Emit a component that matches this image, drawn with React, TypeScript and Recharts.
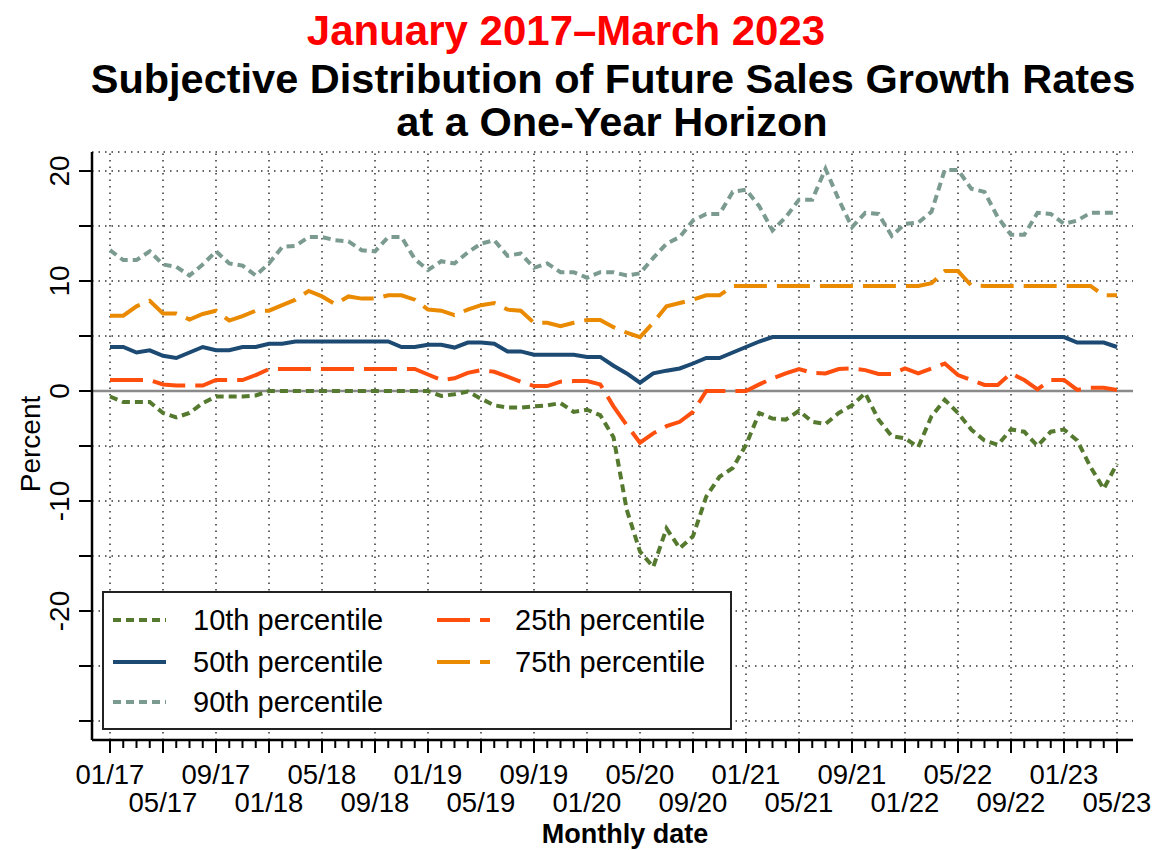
import React from 'react';
import { LineChart, Line, XAxis, YAxis, CartesianGrid, ReferenceLine, Legend } from 'recharts';

const months = [
  "01/17","02/17","03/17","04/17","05/17","06/17","07/17","08/17","09/17","10/17","11/17","12/17",
  "01/18","02/18","03/18","04/18","05/18","06/18","07/18","08/18","09/18","10/18","11/18","12/18",
  "01/19","02/19","03/19","04/19","05/19","06/19","07/19","08/19","09/19","10/19","11/19","12/19",
  "01/20","02/20","03/20","04/20","05/20","06/20","07/20","08/20","09/20","10/20","11/20","12/20",
  "01/21","02/21","03/21","04/21","05/21","06/21","07/21","08/21","09/21","10/21","11/21","12/21",
  "01/22","02/22","03/22","04/22","05/22","06/22","07/22","08/22","09/22","10/22","11/22","12/22",
  "01/23","02/23","03/23","04/23","05/23"
];

const p10 = [
  -0.5,-1.0,-1.0,-1.0,-2.0,-2.4,-2.0,-1.1,-0.5,-0.5,-0.5,-0.4,
  0,0,0,0,0,0,0,0,0,0,0,0,
  0,-0.45,-0.3,-0.05,-0.7,-1.3,-1.5,-1.5,-1.4,-1.3,-1.1,-1.9,
  -1.7,-2.2,-4.2,-10.8,-14.6,-16.0,-12.5,-14.3,-13.2,-9.6,-7.8,-7.0,
  -4.9,-2.0,-2.5,-2.6,-1.8,-2.8,-3.0,-2.0,-1.3,-0.2,-2.6,-4.1,
  -4.3,-5.1,-2.3,-0.8,-2.0,-3.5,-4.5,-4.9,-3.5,-3.7,-5.0,-3.7,
  -3.5,-4.5,-6.9,-8.9,-6.6
];
const p25 = [
  1.0,1.0,1.0,1.0,0.6,0.5,0.5,0.5,1.0,1.0,1.0,1.45,
  2.0,2.0,2.0,2.0,2.0,2.0,2.0,2.0,2.0,2.0,2.0,2.0,
  1.5,1.0,1.15,1.65,1.9,1.75,1.3,0.85,0.45,0.45,0.85,0.9,
  0.9,0.6,-1.4,-3.1,-4.7,-3.85,-3.2,-2.8,-1.9,0,0,0,
  0,0.6,1.15,1.6,2.0,1.65,1.6,2.0,2.05,1.9,1.55,1.55,
  2.05,1.6,2.05,2.5,1.45,1.0,0.55,0.55,1.6,1.0,0.15,1.0,
  1.0,0.1,0.3,0.3,0.1
];
const p50 = [
  4.0,4.0,3.5,3.7,3.2,3.0,3.5,4.0,3.7,3.7,4.0,4.0,
  4.3,4.3,4.5,4.5,4.5,4.5,4.5,4.5,4.5,4.5,4.0,4.0,
  4.2,4.2,3.95,4.4,4.4,4.3,3.6,3.6,3.3,3.3,3.3,3.3,
  3.1,3.1,2.3,1.6,0.75,1.6,1.85,2.05,2.5,3.0,3.0,3.5,
  4.0,4.5,4.9,4.9,4.9,4.9,4.9,4.9,4.9,4.9,4.9,4.9,
  4.9,4.9,4.9,4.9,4.9,4.9,4.9,4.9,4.9,4.9,4.9,4.9,
  4.9,4.4,4.4,4.4,4.0
];
const p75 = [
  6.85,6.85,7.7,8.2,7.05,7.05,6.5,7.0,7.3,6.4,6.8,7.3,
  7.3,7.8,8.3,9.1,8.6,7.9,8.6,8.4,8.4,8.7,8.7,8.3,
  7.4,7.3,6.9,7.4,7.8,8.0,7.4,7.3,6.2,6.2,5.9,6.2,
  6.45,6.45,5.8,5.3,4.9,6.2,7.7,8.0,8.3,8.7,8.7,9.55,
  9.55,9.55,9.55,9.55,9.55,9.55,9.55,9.55,9.55,9.55,9.55,9.55,
  9.55,9.55,9.8,10.9,10.9,9.6,9.55,9.55,9.55,9.55,9.55,9.55,
  9.55,9.55,9.55,8.7,8.7
];
const p90 = [
  12.8,11.9,11.9,12.7,11.5,11.3,10.5,11.5,12.7,11.6,11.4,10.5,
  11.6,13.1,13.2,14.0,14.0,13.7,13.6,12.8,12.7,14.0,14.0,12.0,
  11.0,11.8,11.6,12.6,13.4,13.7,12.3,12.5,11.2,11.6,10.8,10.8,
  10.3,10.8,10.8,10.5,10.7,12.1,13.4,14.0,15.5,16.1,16.1,18.1,
  18.3,16.8,14.6,15.8,17.4,17.4,20.2,17.4,14.9,16.2,16.1,14.1,
  15.2,15.3,16.3,20.1,20.1,18.4,18.1,15.8,14.2,14.2,16.2,16.1,
  15.2,15.5,16.2,16.2,16.2
];

const yTicks = [20, 15, 10, 5, 0, -5, -10, -15, -20, -25, -30];
const majorMonths = months.filter((_, i) => i % 4 === 0);

const seriesKeys = ["p10", "p25", "p50", "p75", "p90"];
const seriesLabels = ["10th percentile", "25th percentile", "50th percentile", "75th percentile", "90th percentile"];
const seriesColors = ["#557a2f", "#ff4f0f", "#1c4a73", "#ea8a00", "#7b9b90"];
const seriesDash = ["8 5", "33 10", undefined, "33 10", "8 5"];

const data = months.map((m, i) => ({
  month: m, p10: p10[i], p25: p25[i], p50: p50[i], p75: p75[i], p90: p90[i]
}));

const FONT = '"Liberation Sans", Arial, Helvetica, sans-serif';

const XTick = (props: any) => {
  const { x, y, index, payload } = props;
  const major = index % 4 === 0;
  const row = Math.floor(index / 4) % 2;
  return (
    <g>
      <line x1={x} x2={x} y1={y} y2={y + (major ? 13 : 8)} stroke="#000" strokeWidth={2} />
      {major && (
        <text x={x} y={y + (row === 0 ? 44 : 72)} textAnchor="middle" fontSize={27.5} fontFamily={FONT} fill="#000">
          {payload.value}
        </text>
      )}
    </g>
  );
};

const YTick = (props: any) => {
  const { x, y, payload } = props;
  const v = payload.value;
  const show = Math.abs(v % 10) < 1e-9 && v !== -30;
  const tx = x - 32;
  return (
    <g>
      <line x1={x - 13} x2={x} y1={y} y2={y} stroke="#000" strokeWidth={2} />
      {show && (
        <text x={tx} y={y} transform={`rotate(-90 ${tx} ${y})`} textAnchor="middle" dominantBaseline="central"
          fontSize={28} fontFamily={FONT} fill="#000">
          {v}
        </text>
      )}
    </g>
  );
};

const rowCenters = [27, 69, 109];
const legendPos = [
  { col: 0, row: 0 }, // 10th
  { col: 1, row: 0 }, // 25th
  { col: 0, row: 1 }, // 50th
  { col: 1, row: 1 }, // 75th
  { col: 0, row: 2 }, // 90th
];

const LegendContent = () => (
  <div style={{
    width: 630, height: 139, boxSizing: 'border-box', border: '2px solid #222', background: '#fff',
    position: 'relative', fontFamily: FONT, fontSize: 29, color: '#000'
  }}>
    {seriesKeys.map((k, i) => {
      const p = legendPos[i];
      const symLeft = p.col === 0 ? 9 : 333;
      const txtLeft = p.col === 0 ? 89 : 411;
      const top = rowCenters[p.row] - 20;
      return (
        <React.Fragment key={k}>
          <svg style={{ position: 'absolute', left: symLeft, top: top + 15 }} width={54} height={10}>
            <line x1={0} x2={53} y1={5} y2={5} stroke={seriesColors[i]} strokeWidth={4}
              strokeDasharray={seriesDash[i]} />
          </svg>
          <div style={{ position: 'absolute', left: txtLeft, top, height: 40, lineHeight: '40px', whiteSpace: 'nowrap' }}>
            {seriesLabels[i]}
          </div>
        </React.Fragment>
      );
    })}
  </div>
);

export default function App() {
  return (
    <div style={{ position: 'absolute', left: 0, top: 0, width: 1153, height: 850, background: '#fff' }}>
      <LineChart width={1153} height={850} data={data} margin={{ top: 152, right: 20, bottom: 0, left: 0 }}>
        <CartesianGrid vertical={false} stroke="#333" strokeWidth={1.5} strokeDasharray="1.5 5" />
        {majorMonths.map((m) => (
          <ReferenceLine key={m} x={m} stroke="#333" strokeWidth={1.5} strokeDasharray="1.5 5" />
        ))}
        <XAxis dataKey="month" interval={0} padding={{ left: 18, right: 16 }} height={110}
          tickLine={false} tickSize={0} tickMargin={0} tick={<XTick />}
          axisLine={{ stroke: '#000', strokeWidth: 2.5 }} />
        <XAxis xAxisId="top" dataKey="month" orientation="top" height={0} tick={false} tickLine={false}
          padding={{ left: 18, right: 16 }} axisLine={{ stroke: '#000', strokeWidth: 2.5 }} />
        <YAxis domain={[-31.73, 21.73]} ticks={yTicks} interval={0} allowDataOverflow width={92}
          tickLine={false} tickSize={0} tickMargin={0} tick={<YTick />}
          axisLine={{ stroke: '#000', strokeWidth: 2.5 }} />
        <YAxis yAxisId="right" orientation="right" domain={[-31.73, 21.73]} width={0} tick={false}
          tickLine={false} axisLine={{ stroke: '#000', strokeWidth: 2.5 }} />
        <ReferenceLine y={0} stroke="#8a8a8a" strokeWidth={2.5} />
        {seriesKeys.map((k, i) => (
          <Line key={k} type="linear" dataKey={k} stroke={seriesColors[i]} strokeWidth={4}
            strokeDasharray={seriesDash[i]} dot={false} activeDot={false} isAnimationActive={false} />
        ))}
        <Legend layout="vertical" align="center" verticalAlign="middle"
          wrapperStyle={{ left: 102, top: 591, width: 630, height: 139 }}
          content={() => <LegendContent />} />
      </LineChart>
      <svg style={{ position: 'absolute', left: 0, top: 0, pointerEvents: 'none' }} width={1153} height={850}>
        <text x={566} y={45} textAnchor="middle" fontSize={42} fontWeight="bold" fontFamily={FONT} fill="#ff0000">
          January 2017–March 2023
        </text>
        <text x={613} y={93} textAnchor="middle" fontSize={41.5} fontWeight="bold" fontFamily={FONT} fill="#000">
          Subjective Distribution of Future Sales Growth Rates
        </text>
        <text x={612} y={136} textAnchor="middle" fontSize={41.5} fontWeight="bold" fontFamily={FONT} fill="#000">
          at a One-Year Horizon
        </text>
        <text x={30} y={444} transform="rotate(-90 30 444)" textAnchor="middle" dominantBaseline="central"
          fontSize={28} fontFamily={FONT} fill="#000">
          Percent
        </text>
        <text x={625} y={843} textAnchor="middle" fontSize={27} fontWeight="bold" fontFamily={FONT} fill="#000">
          Monthly date
        </text>
      </svg>
    </div>
  );
}
